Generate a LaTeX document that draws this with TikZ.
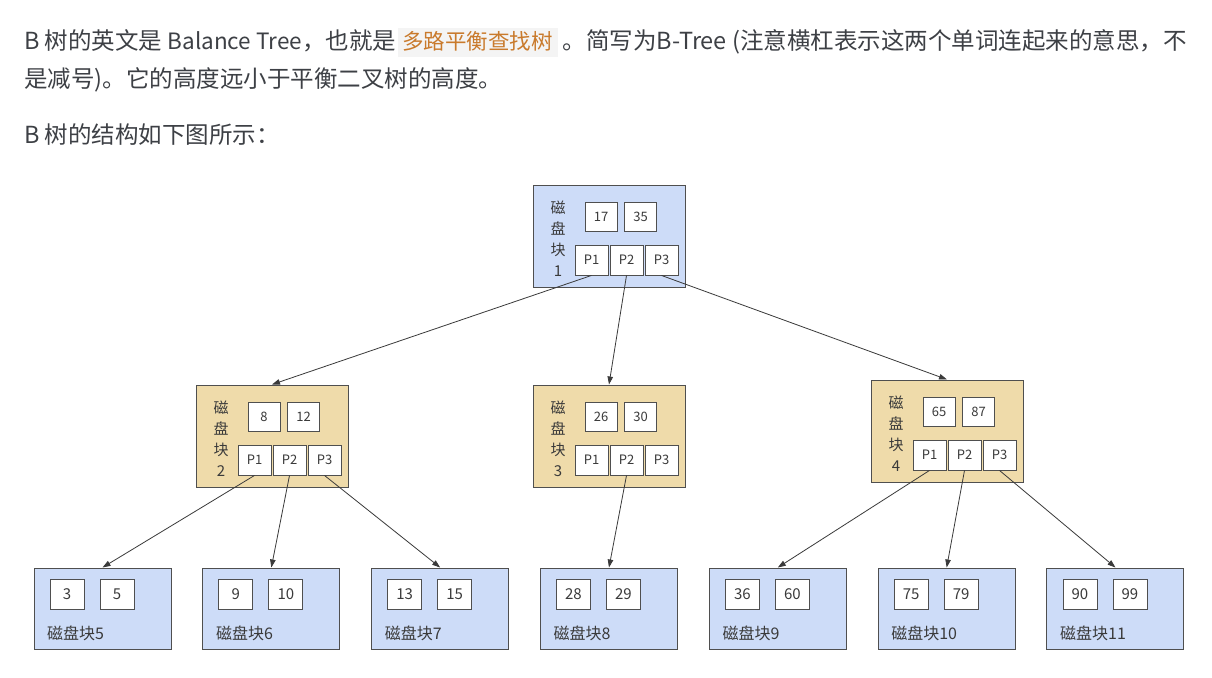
\documentclass[tikz,border=0pt]{standalone}
\usepackage{fontspec}
\setmainfont{Noto Sans CJK SC}
\usetikzlibrary{arrows.meta}
\definecolor{bodytxt}{HTML}{3D4045}
\definecolor{hlbg}{HTML}{F4F4F4}
\definecolor{hltxt}{HTML}{C97A2C}
\definecolor{edge}{HTML}{4F4F4F}
\definecolor{blueF}{HTML}{CDDCF8}
\definecolor{tanF}{HTML}{EFDBAA}
\definecolor{nodetxt}{HTML}{3A3A3A}
\definecolor{linec}{HTML}{3A3A3A}

% an inner B-tree block: name, style, left, top, key1, key2, number
\newcommand\BNode[7]{%
  \node[#2] (#1) at (#3+76,#4+51) {};
  \node[cell] (#1-k1) at (#3+68,#4+31.5) {#5};
  \node[cell] (#1-k2) at (#3+107.5,#4+31.5) {#6};
  \node[ptr] (#1-p1) at (#3+58.5,#4+75) {P1};
  \node[ptr] (#1-p2) at (#3+93.5,#4+75) {P2};
  \node[ptr] (#1-p3) at (#3+128.5,#4+75) {P3};
  \node[vlab] (#1-lab) at (#3+25,#4+53.5) {磁\\盘\\块\\#7};
}
% a leaf block: name, column index, key1, key2, number
\newcommand\BLeaf[5]{%
  \pgfmathsetmacro\lx{34+168.83*#2}
  \node[leaf] (#1) at (\lx+68.5,608.5) {};
  \node[leafcell] (#1-k1) at (\lx+33,594) {#3};
  \node[leafcell] (#1-k2) at (\lx+83,594) {#4};
  \node[leaflab] (#1-lab) at (\lx+13,633) {磁盘块#5};
}
% inline highlighted term
\newcommand\hlterm[1]{{\setlength\fboxsep{0pt}\colorbox{hlbg}{\rule[-8pt]{0pt}{29pt}\hspace{4pt}\textcolor{hltxt}{\fontsize{21.5}{21.5}\selectfont #1}\hspace{5pt}}}}

\begin{document}
\begin{tikzpicture}[x=1pt,y=-1pt,
  blk/.style={draw=edge, line width=1pt, inner sep=0pt, minimum width=152pt, minimum height=102pt},
  blueblk/.style={blk, fill=blueF},
  tanblk/.style={blk, fill=tanF},
  leaf/.style={blk, fill=blueF, minimum width=137pt, minimum height=81pt},
  cell/.style={draw=edge, fill=white, line width=0.9pt, inner sep=0pt,
    minimum width=32pt, minimum height=29pt, text=nodetxt, font=\fontsize{13}{13}\selectfont},
  ptr/.style={cell, minimum width=33pt, minimum height=30pt},
  leafcell/.style={cell, minimum width=34pt, minimum height=30pt, font=\fontsize{15}{15}\selectfont},
  vlab/.style={inner sep=0pt, align=center, text=nodetxt, font=\fontsize{15}{21}\selectfont},
  leaflab/.style={inner sep=0pt, anchor=west, text=nodetxt, font=\fontsize{16}{16}\selectfont},
  para/.style={inner sep=0pt, anchor=base west, text=bodytxt, font=\fontsize{23.5}{23.5}\selectfont},
  link/.style={draw=linec, line width=0.8pt, -{Triangle[length=8pt,width=5.5pt]}}]
\useasboundingbox[fill=white] (0,0) rectangle (1212,677);

% introductory paragraph
\node[para] (l1) at (24,49) {B 树的英文是 {\fontsize{22.5}{22.5}\selectfont Balance Tree}，也就是\hspace{2pt}\hlterm{多路平衡查找树} 。简写为B-Tree (注意横杠表示这两个单词连起来的意思，不};
\node[para] (l2) at (24,87) {是减号)。它的高度远小于平衡二叉树的高度。};
\node[para] (l3) at (24,143) {B 树的结构如下图所示：};

% inner blocks
\BNode{r}{blueblk}{533}{185}{17}{35}{1}
\BNode{a}{tanblk}{196}{385}{8}{12}{2}
\BNode{b}{tanblk}{533}{385}{26}{30}{3}
\BNode{c}{tanblk}{871}{380}{65}{87}{4}

% leaf blocks
\BLeaf{d5}{0}{3}{5}{5}
\BLeaf{d6}{1}{9}{10}{6}
\BLeaf{d7}{2}{13}{15}{7}
\BLeaf{d8}{3}{28}{29}{8}
\BLeaf{d9}{4}{36}{60}{9}
\BLeaf{d10}{5}{75}{79}{10}
\BLeaf{d11}{6}{90}{99}{11}

% child pointers
\draw[link] (r-p1.south) -- (a.north);
\draw[link] (r-p2.south) -- (b.north);
\draw[link] (r-p3.south) -- (c.north);
\draw[link] (a-p1.south) -- (d5.north);
\draw[link] (a-p2.south) -- (d6.north);
\draw[link] (a-p3.south) -- (d7.north);
\draw[link] (b-p2.south) -- (d8.north);
\draw[link] (c-p1.south) -- (d9.north);
\draw[link] (c-p2.south) -- (d10.north);
\draw[link] (c-p3.south) -- (d11.north);
\end{tikzpicture}
\end{document}
